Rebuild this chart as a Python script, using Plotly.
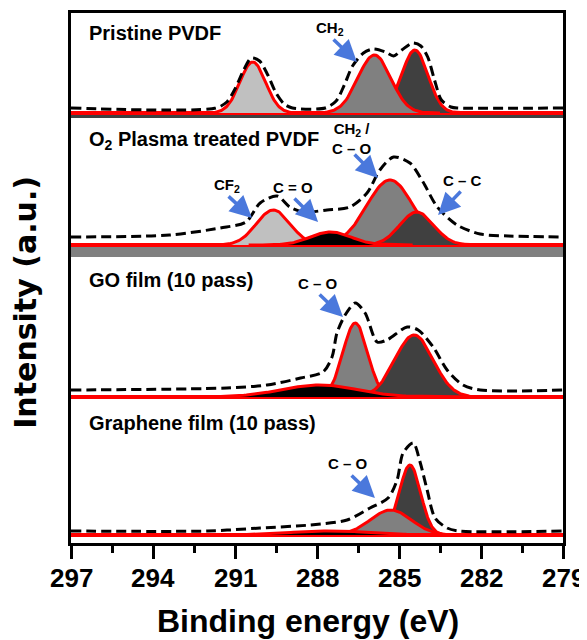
import numpy as np
import plotly.graph_objects as go

# ---------------- data ----------------
tick_values = [297, 294, 291, 288, 285, 282, 279]
tick_labels = ["297", "294", "291", "288", "285", "282", "279"]
minor_ticks = [295.5, 292.5, 289.5, 286.5, 283.5, 280.5]

panel_titles = ["Pristine PVDF", "O<sub>2</sub> Plasma treated PVDF",
                "GO film (10 pass)", "Graphene film (10 pass)"]

# fitted component peaks: centre (eV), height (a.u.), gaussian sigma (eV)
p1_centers = [290.35, 284.42, 285.90]
p1_heights = [51, 63, 58]
p1_sigmas = [0.47, 0.48, 0.60]

p2_centers = [289.60, 285.33, 284.35, 287.50]
p2_heights = [35, 65, 33, 13]
p2_sigmas = [0.62, 0.85, 0.62, 0.75]

p3_centers = [286.60, 284.45, 287.90]
p3_heights = [74, 62, 12]
p3_sigmas = [0.45, 0.70, 1.40]

p4_centers = [284.60, 285.30, 287.50]
p4_heights = [70, 25, 4]
p4_sigmas = [0.39, 0.75, 1.50]

# measured envelopes (dashed)
env1_e = [297.0, 291.7, 291.3, 291.0, 290.7, 290.4, 290.1, 289.8, 289.5, 289.2, 288.9,
          287.7, 287.3, 287.0, 286.7, 286.3, 285.95, 285.5, 285.2, 284.9, 284.5, 284.2,
          283.95, 283.7, 283.45, 283.1, 282.8, 279.0]
env1_i = [5, 5, 11, 24, 42, 55, 52, 38, 20, 9, 5,
          5, 12, 28, 47, 60, 64, 61, 57, 63, 70, 67,
          56, 33, 13, 6, 5, 5]

env2_e = [297.0, 293.4, 291.55, 290.6, 290.08, 289.46, 289.0, 288.5, 287.63, 286.8,
          286.17, 285.7, 285.2, 284.6, 284.12, 283.6, 282.88, 282.03, 281.0, 279.0]
env2_i = [8, 10, 17, 23, 42, 49, 38, 33, 35, 38,
          52, 75, 88, 82, 63, 38, 20, 11, 9, 8]

env3_e = [297.0, 291.3, 289.83, 288.6, 287.78, 287.45, 287.27, 286.97, 286.6, 286.24,
          285.8, 285.44, 284.7, 284.3, 283.75, 283.24, 282.66, 282.03, 279.0]
env3_i = [7, 9, 12, 19, 25, 40, 64, 82, 94, 84,
          55, 57, 70, 67, 50, 27, 12, 7, 7]

env4_e = [297.0, 292.0, 290.08, 288.25, 286.9, 286.06, 285.4, 285.07, 284.85, 284.48,
          284.23, 283.97, 283.68, 283.24, 282.8, 279.0]
env4_i = [4, 4, 7, 10, 15, 27, 37, 55, 82, 92,
          73, 45, 17, 7, 4, 4]

# ---------------- layout / style ----------------
offsets = [430, 298, 146, 8]
p1_fills = ["#c0c0c0", "#404040", "#808080"]
p2_fills = ["#c0c0c0", "#808080", "#404040", "#000000"]
p3_fills = ["#808080", "#404040", "#000000"]
p4_fills = ["#404040", "#808080", "#000000"]
RED = "#ff0000"
BLUE = "#4a78dc"
FONT = "Liberation Sans, Arial, sans-serif"

fig = go.Figure()

# background bands under some panels
fig.add_shape(type="rect", xref="paper", x0=0, x1=1, y0=425, y1=429,
              fillcolor="#404040", line_width=0, layer="below")
fig.add_shape(type="rect", xref="paper", x0=0, x1=1, y0=286, y1=296,
              fillcolor="#808080", line_width=0, layer="below")

panels = [
    (p1_centers, p1_heights, p1_sigmas, p1_fills, env1_e, env1_i),
    (p2_centers, p2_heights, p2_sigmas, p2_fills, env2_e, env2_i),
    (p3_centers, p3_heights, p3_sigmas, p3_fills, env3_e, env3_i),
    (p4_centers, p4_heights, p4_sigmas, p4_fills, env4_e, env4_i),
]

for (cs, hs, ss, fills, ee, ei), off in zip(panels, offsets):
    # red baseline
    fig.add_trace(go.Scatter(x=[297, 279], y=[off, off], mode="lines",
                             line=dict(color=RED, width=4), hoverinfo="skip"))
    for c, h, s, fc in zip(cs, hs, ss, fills):
        xs = np.linspace(c - 4 * s, c + 4 * s, 120)
        ys = off + h * np.exp(-((xs - c) ** 2) / (2 * s ** 2))
        fig.add_trace(go.Scatter(x=xs, y=ys, mode="lines", fill="toself",
                                 fillcolor=fc, line=dict(color=RED, width=3),
                                 hoverinfo="skip"))
    fig.add_trace(go.Scatter(x=ee, y=[off + v for v in ei], mode="lines",
                             line=dict(color="black", width=3, dash="10px,5px",
                                       shape="spline", smoothing=0.8),
                             hoverinfo="skip"))

# panel titles
title_y = [510, 403, 263, 120]
for t, y in zip(panel_titles, title_y):
    fig.add_annotation(x=296.42, y=y, text=t, showarrow=False, xanchor="left",
                       yanchor="middle", font=dict(family=FONT, size=20, color="black",
                                                   weight="bold"))

# peak labels with arrows
labels = [
    ("CH<sub>2</sub>", 287.52, 515, 287.45, 505, 286.54, 481),
    ("CH<sub>2</sub> /<br>C – O", 286.72, 405, 286.68, 390, 285.77, 365),
    ("CF<sub>2</sub>", 291.29, 358, 291.29, 348, 290.38, 325),
    ("C = O", 288.88, 356, 288.88, 346, 287.96, 321),
    ("C – C", 282.66, 363, 282.69, 353, 283.57, 328),
    ("C – O", 287.96, 260, 287.96, 250, 287.05, 226),
    ("C – O", 286.86, 80, 286.79, 69, 285.88, 45),
]
for txt, tx, ty, ax, ay, hx, hy in labels:
    fig.add_annotation(x=tx, y=ty, text=txt, showarrow=False, xanchor="center",
                       yanchor="middle",
                       font=dict(family=FONT, size=15, color="black", weight="bold"))
    fig.add_annotation(x=hx, y=hy, ax=ax, ay=ay, axref="x", ayref="y", text="",
                       showarrow=True, arrowhead=2, arrowsize=1.25, arrowwidth=3.5,
                       arrowcolor=BLUE, standoff=0)

# tick labels (placed as text at each tick value)
for v, lab in zip(tick_values, tick_labels):
    fig.add_annotation(x=v, xref="x", yref="paper", y=-0.066, text=lab,
                       showarrow=False, xanchor="center", yanchor="middle",
                       font=dict(family=FONT, size=26, color="black", weight="bold"))

# axis titles
fig.add_annotation(xref="paper", yref="paper", x=0.482, y=-0.148,
                   text="Binding energy (eV)", showarrow=False,
                   xanchor="center", yanchor="middle",
                   font=dict(family=FONT, size=32, color="black", weight="bold"))
fig.add_annotation(xref="paper", yref="paper", x=-0.0915, y=0.455,
                   text="Intensity (a.u.)", showarrow=False, textangle=-90,
                   xanchor="center", yanchor="middle",
                   font=dict(family="DejaVu Sans, sans-serif", size=30, color="black",
                             weight="bold"))

# page body adds an 8px offset, so the figure is sized/margined to compensate
fig.update_layout(
    width=579, height=632,
    margin=dict(l=63, r=24, t=5, b=97, autoexpand=False),
    plot_bgcolor="white", paper_bgcolor="white",
    showlegend=False,
)
fig.update_xaxes(range=[297, 279], tickvals=tick_values, showticklabels=False,
                 ticks="outside", ticklen=13, tickwidth=2.5, tickcolor="black",
                 showline=True, linewidth=2.5, linecolor="black", mirror=True,
                 showgrid=False, zeroline=False, automargin=False,
                 minor=dict(tickvals=minor_ticks, ticks="outside", ticklen=7,
                            tickwidth=2.5, tickcolor="black"))
fig.update_yaxes(range=[0, 530], showticklabels=False, ticks="", showgrid=False,
                 zeroline=False, showline=True, linewidth=2.5, linecolor="black",
                 mirror=True, automargin=False)

fig.write_html("out.html")
